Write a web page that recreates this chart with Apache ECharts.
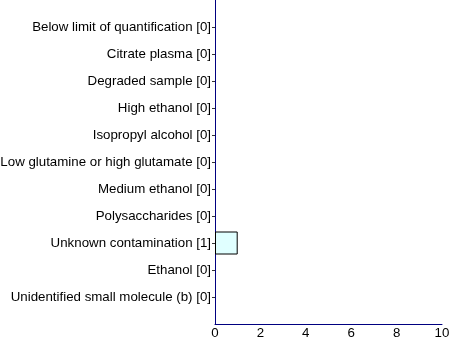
<!DOCTYPE html>
<html><head><meta charset="utf-8">
<script src="https://cdn.jsdelivr.net/npm/echarts@6/dist/echarts.min.js"></script>
<style>html,body{margin:0;padding:0;background:#fff}#c{width:450px;height:342px}</style>
</head><body><div id="c"></div>
<script>
var categories = ["Below limit of quantification [0]","Citrate plasma [0]","Degraded sample [0]","High ethanol [0]","Isopropyl alcohol [0]","Low glutamine or high glutamate [0]","Medium ethanol [0]","Polysaccharides [0]","Unknown contamination [1]","Ethanol [0]","Unidentified small molecule (b) [0]"];
var values = [0,0,0,0,0,0,0,0,1,0,0];
var xTicks = [0,2,4,6,8,10];

var cats = [''].concat(categories, ['']);
var items = [null].concat(values.map(function(v){
  return {value:v, itemStyle:{borderWidth: v === 0 ? 0 : 1}};
}), [null]);
var n = cats.length;
var FF = 'Liberation Sans, Arial, sans-serif';
var chart = echarts.init(document.getElementById('c'), null, {renderer:'canvas'});
chart.setOption({
  animation:false,
  textStyle:{fontFamily:FF},
  grid:{left:215,right:8,top:0,bottom:18,containLabel:false,outerBoundsMode:'none'},
  xAxis:{type:'value',min:xTicks[0],max:xTicks[xTicks.length-1],interval:2,
    axisLine:{show:true,lineStyle:{color:'#000080',width:1}},
    axisTick:{show:false},splitLine:{show:false},
    axisLabel:{color:'#000',fontSize:13.3,margin:3,fontFamily:FF}},
  yAxis:{type:'category',data:cats,inverse:true,boundaryGap:false,
    axisLine:{show:true,lineStyle:{color:'#000080',width:1}},
    axisTick:{show:true,length:3,lineStyle:{color:'#333'},interval:function(i){return i>0&&i<n-1;}},
    splitLine:{show:false},
    axisLabel:{color:'#000',fontSize:13.3,margin:4,interval:0,fontFamily:FF}},
  series:[{type:'bar',data:items,barWidth:23,
    itemStyle:{color:'#E0FFFF',borderColor:'#000',borderWidth:1}}]
});
</script></body></html>
